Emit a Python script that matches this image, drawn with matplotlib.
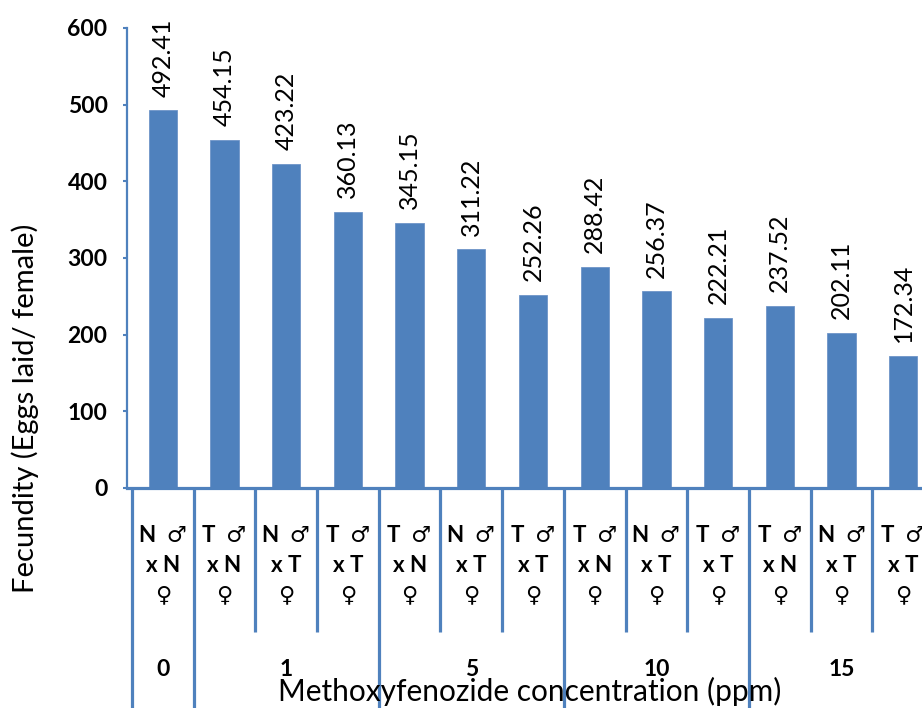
import matplotlib
matplotlib.use("Agg")
import matplotlib.pyplot as plt
from matplotlib.transforms import blended_transform_factory

plt.rcParams['font.family'] = ['Lato', 'DejaVu Sans']

# Fecundity per cross, grouped by methoxyfenozide concentration
crosses = [
    "N  \u2642\nx N\n\u2640",
    "T  \u2642\nx N\n\u2640",
    "N  \u2642\nx T\n\u2640",
    "T  \u2642\nx T\n\u2640",
    "T  \u2642\nx N\n\u2640",
    "N  \u2642\nx T\n\u2640",
    "T  \u2642\nx T\n\u2640",
    "T  \u2642\nx N\n\u2640",
    "N  \u2642\nx T\n\u2640",
    "T  \u2642\nx T\n\u2640",
    "T  \u2642\nx N\n\u2640",
    "N  \u2642\nx T\n\u2640",
    "T  \u2642\nx T\n\u2640",
]
fecundity = [492.41, 454.15, 423.22, 360.13, 345.15, 311.22, 252.26,
             288.42, 256.37, 222.21, 237.52, 202.11, 172.34]
concentrations = ["0", "1", "5", "10", "15"]
group_sizes = [1, 3, 3, 3, 3]
y_ticks = [0, 100, 200, 300, 400, 500, 600]

BLUE = "#4F81BD"
W, H = 922, 708

fig = plt.figure(figsize=(W / 100, H / 100), dpi=100)
ax = fig.add_axes([127 / W, (H - 488) / H, (934 - 127) / W, (488 - 28) / H])

n = len(fecundity)
centers = [i + 0.5 for i in range(n)]
ax.bar(centers, fecundity, width=0.46, color=BLUE, edgecolor="#6F95C8",
       linewidth=0.6, zorder=2)

for x, v in zip(centers, fecundity):
    ax.annotate(f"{v:.2f}", (x, v), xytext=(0, 10), textcoords="offset points",
                rotation=90, ha="center", va="bottom", fontsize=18,
                color="black")

ax.set_xlim(-5 / 61.69, n)
ax.set_ylim(0, 600)
ax.set_yticks(y_ticks)
ax.set_yticklabels([str(t) for t in y_ticks], fontsize=16.5, fontweight="bold")
ax.tick_params(axis="y", direction="out", length=3, width=1.5, color=BLUE,
               pad=11)
ax.set_xticks([])

for side in ("top", "right"):
    ax.spines[side].set_visible(False)
ax.spines["left"].set_color(BLUE)
ax.spines["left"].set_linewidth(1.6)
ax.spines["bottom"].set_color(BLUE)
ax.spines["bottom"].set_linewidth(2.3)

# Category axis: cross labels, separators and concentration groups
tr = blended_transform_factory(ax.transData, fig.transFigure)

def fy(px):
    return 1 - px / H

for x, lab in zip(centers, crosses):
    ax.text(x, fy(565), lab, transform=tr, ha="center", va="center",
            fontsize=16, fontweight="bold", linespacing=1.5,
            clip_on=False)

group_edges = [0]
for g in group_sizes:
    group_edges.append(group_edges[-1] + g)

for b in range(n + 1):
    bottom = 720 if b in group_edges else 632
    ax.plot([b, b], [fy(488), fy(bottom)], transform=tr, color=BLUE,
            linewidth=2.3, clip_on=False, solid_capstyle="butt")

for i, conc in enumerate(concentrations):
    gx = (group_edges[i] + group_edges[i + 1]) / 2
    ax.text(gx, fy(670), conc, transform=tr, ha="center", va="center",
            fontsize=16.5, fontweight="bold", clip_on=False)

fig.text(530 / W, fy(691), "Methoxyfenozide concentration (ppm)",
         ha="center", va="center", fontsize=21.5)
fig.text(25 / W, fy(408), "Fecundity (Eggs laid/ female)", rotation=90,
         ha="center", va="center", fontsize=21)

fig.savefig("out.png", dpi=100)
